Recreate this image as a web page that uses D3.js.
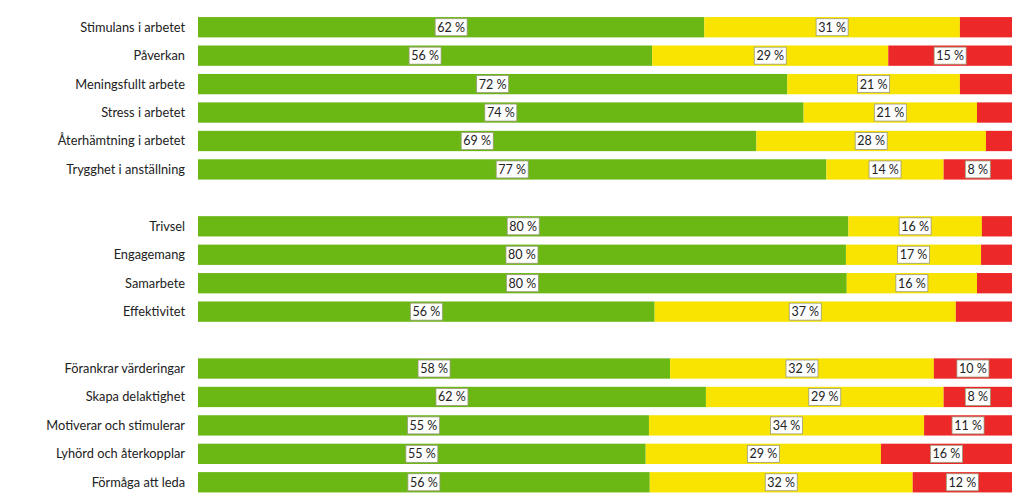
<!DOCTYPE html>
<html>
<head>
<meta charset="utf-8">
<script src="https://d3js.org/d3.v7.min.js"></script>
<style>
  body { margin: 0; background: #fff; }
  text { font-family: Lato, "Open Sans", "Liberation Sans", sans-serif; }
</style>
</head>
<body>
<div id="chart"></div>
<script>
// chart size
var svgWidth = 1026;
var svgHeight = 500;

// categories, "" rows are the gaps between groups
var categories = [
  "Stimulans i arbetet", "Påverkan", "Meningsfullt arbete", "Stress i arbetet",
  "Återhämtning i arbetet", "Trygghet i anställning", "",
  "Trivsel", "Engagemang", "Samarbete", "Effektivitet", "",
  "Förankrar värderingar", "Skapa delaktighet", "Motiverar och stimulerar",
  "Lyhörd och återkopplar", "Förmåga att leda"
];

// series values (percent), null on gap rows
var greenValues  = [62.2, 55.8, 72.4, 74.4, 68.6, 77.2, null, 79.9, 79.6, 79.7, 56.1, null, 58.0, 62.4, 55.4, 55.0, 55.5];
var yellowValues = [31.4, 29.0, 21.2, 21.3, 28.2, 14.4, null, 16.4, 16.6, 16.0, 37.0, null, 32.4, 29.2, 33.8, 28.9, 32.3];
var redValues    = [6.4, 15.2, 6.4, 4.3, 3.2, 8.4, null, 3.7, 3.8, 4.3, 6.9, null, 9.6, 8.4, 10.8, 16.1, 12.2];

var seriesNames = ["green", "yellow", "red"];
var colors = ["#6bb815", "#f8e400", "#ed2828"];

// build rows for d3.stack
var rows = categories.map(function(c, i) {
  return { key: "r" + i, name: c, green: greenValues[i], yellow: yellowValues[i], red: redValues[i] };
});
var dataRows = rows.filter(function(d) { return d.green !== null; });

var svg = d3.select("#chart")
  .append("svg")
  .attr("width", svgWidth)
  .attr("height", svgHeight);

var x = d3.scaleLinear()
  .domain([0, 100])
  .range([198, 1012]);

var y = d3.scaleBand()
  .domain(rows.map(function(d) { return d.key; }))
  .range([13, 496.5])
  .paddingInner(0.286)
  .paddingOuter(0.143);

var stack = d3.stack().keys(seriesNames);
var series = stack(dataRows);

// bars
var layers = svg.selectAll(".layer")
  .data(series)
  .enter()
  .append("g")
  .attr("class", "layer")
  .attr("fill", function(d, i) { return colors[i]; });

layers.selectAll("rect")
  .data(function(d) { return d; })
  .enter()
  .append("rect")
  .attr("x", function(d) { return x(d[0]); })
  .attr("y", function(d) { return y(d.data.key); })
  .attr("width", function(d) { return x(d[1]) - x(d[0]); })
  .attr("height", y.bandwidth());

// category labels
svg.append("g")
  .selectAll("text")
  .data(dataRows)
  .enter()
  .append("text")
  .attr("x", 185)
  .attr("y", function(d) { return y(d.key) + y.bandwidth() / 2; })
  .attr("dy", "0.35em")
  .attr("text-anchor", "end")
  .attr("font-size", 12.8)
  .attr("fill", "#222")
  .text(function(d) { return d.name; });

// value labels in white boxes, small values skipped
var labels = [];
series.forEach(function(s) {
  s.forEach(function(d) {
    var v = Math.round(d[1] - d[0]);
    if (v >= 8) labels.push({ v: v, cx: (x(d[0]) + x(d[1])) / 2, key: d.data.key });
  });
});

var lab = svg.append("g")
  .selectAll("g")
  .data(labels)
  .enter()
  .append("g")
  .attr("transform", function(d) {
    return "translate(" + d.cx + "," + (y(d.key) + y.bandwidth() / 2) + ")";
  });

lab.append("rect")
  .attr("x", function(d) { return d.v >= 10 ? -16 : -12.5; })
  .attr("y", -8.5)
  .attr("width", function(d) { return d.v >= 10 ? 32 : 25; })
  .attr("height", 17)
  .attr("fill", "#fff")
  .attr("stroke", "#9a9a7a")
  .attr("stroke-width", 0.8);

lab.append("text")
  .attr("text-anchor", "middle")
  .attr("dy", "0.36em")
  .attr("font-size", 12.5)
  .attr("fill", "#222")
  .text(function(d) { return d.v + " %"; });
</script>
</body>
</html>
